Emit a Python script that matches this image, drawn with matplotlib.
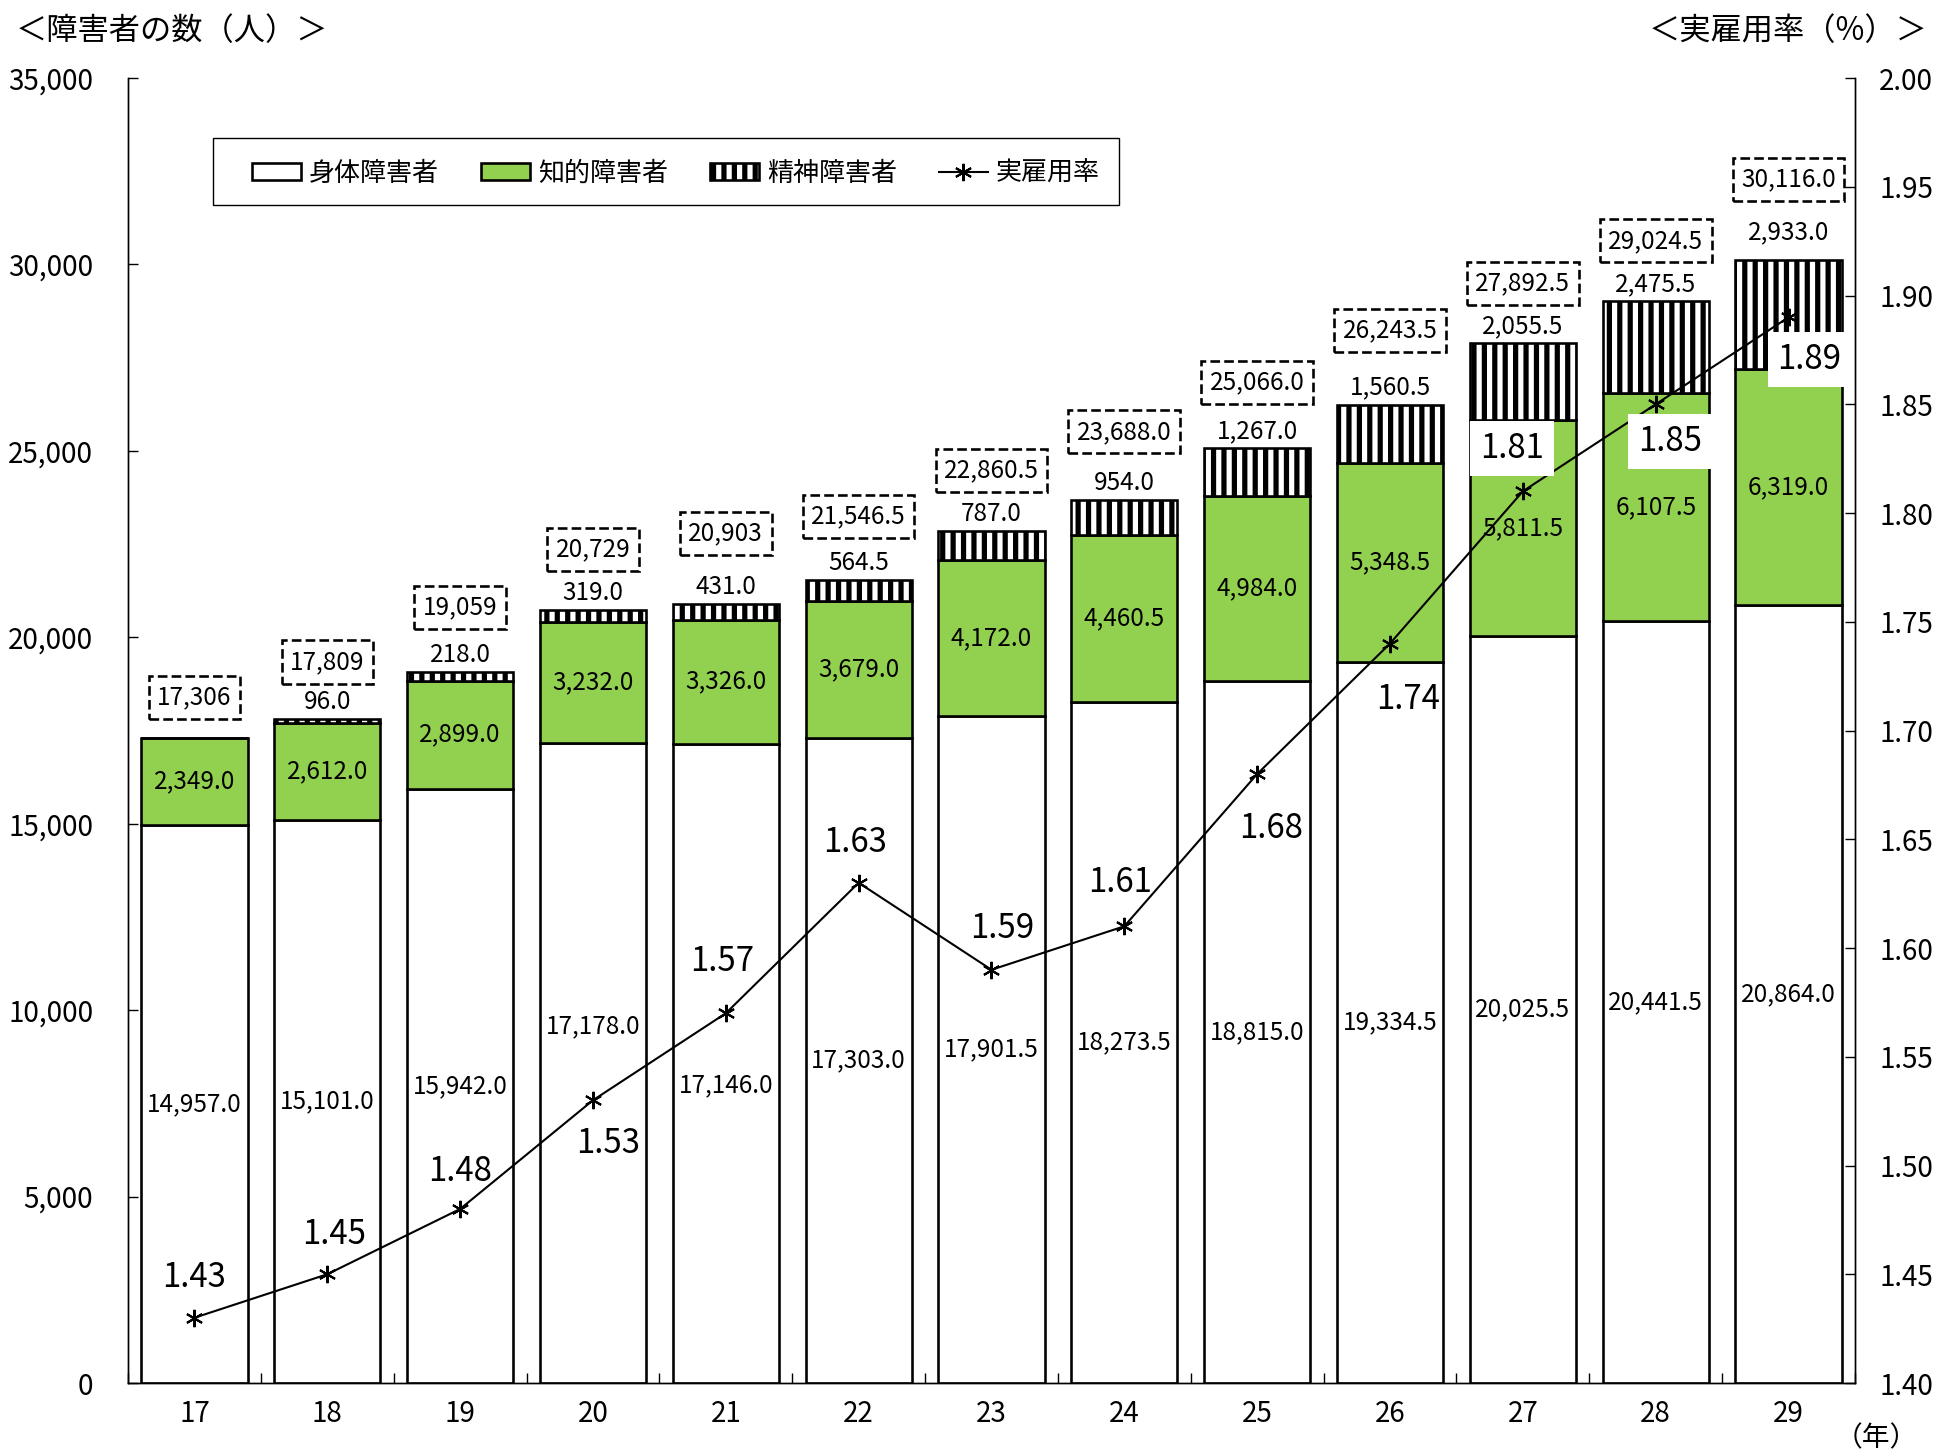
import matplotlib
matplotlib.use('Agg')
import numpy as np
import matplotlib.pyplot as plt
from matplotlib.lines import Line2D
from matplotlib.patches import Patch, Rectangle
from matplotlib.ticker import FuncFormatter, MultipleLocator

plt.rcParams['font.family'] = ['Noto Sans CJK JP', 'DejaVu Sans']
plt.rcParams['hatch.linewidth'] = 3.0
plt.rcParams['hatch.color'] = 'black'

years = ['17', '18', '19', '20', '21', '22', '23', '24', '25', '26', '27', '28', '29']
physical = [14957.0, 15101.0, 15942.0, 17178.0, 17146.0, 17303.0, 17901.5,
            18273.5, 18815.0, 19334.5, 20025.5, 20441.5, 20864.0]
intellectual = [2349.0, 2612.0, 2899.0, 3232.0, 3326.0, 3679.0, 4172.0,
                4460.5, 4984.0, 5348.5, 5811.5, 6107.5, 6319.0]
mental = [0.0, 96.0, 218.0, 319.0, 431.0, 564.5, 787.0,
          954.0, 1267.0, 1560.5, 2055.5, 2475.5, 2933.0]
total_labels = ['17,306', '17,809', '19,059', '20,729', '20,903', '21,546.5', '22,860.5',
                '23,688.0', '25,066.0', '26,243.5', '27,892.5', '29,024.5', '30,116.0']
rate = [1.43, 1.45, 1.48, 1.53, 1.57, 1.63, 1.59, 1.61, 1.68, 1.74, 1.81, 1.85, 1.89]

# label nudges in pixels (layout only)
phys_dy = [0, 0, 0, 36, -22, 0, 0, 0, 0, 0, 0, 0, 0]
total_dy = [40, 57, 65, 61, 70, 63, 60, 68, 66, 74, 60, 60, 81]
ment_dy = [17] * 12 + [28]
rate_off = [(0, 40), (7, 40), (0, 38), (15, -43), (-4, 52), (-4, 40), (11, 41),
            (-4, 44), (14, -54), (18, -56), (-11, 43), (14, -37), (21, -42)]
rate_boxed = [False] * 10 + [True, True, True]

green = '#92D050'
fs_tick = 16
fs_val = 14

fig = plt.figure(figsize=(15.48, 11.632), dpi=125)
ax = fig.add_axes([0.06615, 0.04883, 0.8925, 0.8975])

x = np.arange(len(years))
phys = np.array(physical)
intel = np.array(intellectual)
ment = np.array(mental)
w = 0.8

ax.bar(x, phys, w, color='white', edgecolor='black', lw=1.5, zorder=2)
ax.bar(x, intel, w, bottom=phys, color=green, edgecolor='black', lw=1.5, zorder=2)
ax.bar(x, ment, w, bottom=phys + intel, color='white', edgecolor='black', lw=1.5,
       hatch='||', zorder=2)

tops = phys + intel + ment
for i in range(len(x)):
    ax.annotate(f'{physical[i]:,.1f}', (x[i], phys[i] / 2), xytext=(0, phys_dy[i]),
                textcoords='offset pixels', ha='center', va='center', fontsize=fs_val, zorder=5)
    ax.annotate(f'{intellectual[i]:,.1f}', (x[i], phys[i] + intel[i] / 2),
                ha='center', va='center', fontsize=fs_val, zorder=5)
    if ment[i] > 0:
        ax.annotate(f'{mental[i]:,.1f}', (x[i], tops[i]), xytext=(0, ment_dy[i]),
                    textcoords='offset pixels', ha='center', va='center', fontsize=fs_val, zorder=5)
    ax.annotate(total_labels[i], (x[i], tops[i]), xytext=(0, total_dy[i]),
                textcoords='offset pixels', ha='center', va='center', fontsize=fs_val, zorder=4,
                bbox=dict(boxstyle='square,pad=0.35', fc='white', ec='black', ls='--', lw=1.5))

ax.set_xlim(-0.5, len(x) - 0.5)
ax.set_ylim(0, 35000)
ax.yaxis.set_major_locator(MultipleLocator(5000))
ax.yaxis.set_major_formatter(FuncFormatter(lambda v, p: f'{v:,.0f}'))
ax.set_xticks(x)
ax.set_xticklabels(years)
ax.set_xticks(np.arange(-0.5, len(x), 1), minor=True)
ax.tick_params(axis='x', which='major', length=0, pad=9, labelsize=fs_tick)
ax.tick_params(axis='x', which='minor', direction='in', length=6, width=0.8)
ax.tick_params(axis='y', direction='in', length=6, width=0.8, pad=20, labelsize=fs_tick)
ax.spines['top'].set_visible(False)
for s in ['left', 'bottom', 'right']:
    ax.spines[s].set_linewidth(0.8)

ax2 = ax.twinx()
ax2.plot(x, rate, color='black', lw=1.2, marker=(6, 2, 0), ms=10, mew=1.2, zorder=4)
ax2.set_ylim(1.40, 2.00)
ax2.yaxis.set_major_locator(MultipleLocator(0.05))
ax2.yaxis.set_major_formatter(FuncFormatter(lambda v, p: f'{v:.2f}'))
ax2.tick_params(axis='y', direction='in', length=6, width=0.8, pad=14, labelsize=fs_tick)
ax2.spines['top'].set_visible(False)
ax2.spines['right'].set_linewidth(0.8)

for i in range(len(x)):
    bb = dict(boxstyle='square,pad=0.3', fc='white', ec='none') if rate_boxed[i] else None
    ax2.annotate(f'{rate[i]:.2f}', (x[i], rate[i]), xytext=rate_off[i],
                 textcoords='offset pixels', ha='center', va='center', fontsize=19,
                 bbox=bb, zorder=6)

# legend frame drawn separately so inner padding can match
ax2.add_patch(Rectangle((0.0495, 0.9027), 0.5243, 0.0513, transform=ax2.transAxes,
                        fc='white', ec='black', lw=0.8, zorder=7))
handles = [Patch(facecolor='white', edgecolor='black', lw=1.5),
           Patch(facecolor=green, edgecolor='black', lw=1.5),
           Patch(facecolor='white', edgecolor='black', lw=1.5, hatch='||'),
           Line2D([], [], color='black', lw=1.2, marker=(6, 2, 0), ms=10, mew=1.2)]
names = ['身体障害者', '知的障害者', '精神障害者', '実雇用率']
leg = ax2.legend(handles, names, ncol=4, loc='center left', bbox_to_anchor=(0.0716, 0.9272),
                 frameon=False, fontsize=15, handlelength=1.9, handleheight=0.6,
                 handletextpad=0.3, columnspacing=1.6, borderpad=0, borderaxespad=0)
leg.set_zorder(8)

fig.text(0.008, 0.979, '＜障害者の数（人）＞', fontsize=18, ha='left', va='center')
fig.text(0.996, 0.979, '＜実雇用率（%）＞', fontsize=18, ha='right', va='center')
fig.text(0.9695, 0.011, '（年）', fontsize=16, ha='center', va='center')

fig.savefig('out.png', dpi=125)
